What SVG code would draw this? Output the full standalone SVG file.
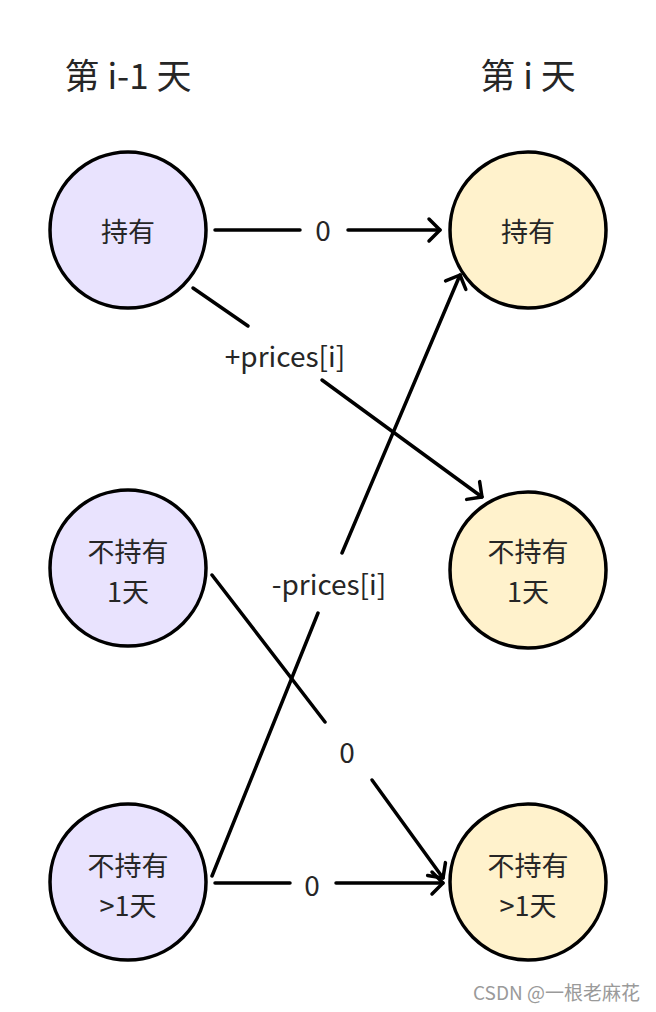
<svg xmlns="http://www.w3.org/2000/svg" width="656" height="1012" viewBox="0 0 656 1012">
<style>
.t{font-family:"Noto Sans CJK SC","Noto Sans",sans-serif;fill:#262626;text-anchor:middle}
.title{font-size:35px}
.n{font-size:27px}
.lbl{font-size:28px}
.l{fill:#e9e3fe;stroke:#000;stroke-width:3.5}
.r{fill:#fff2cc;stroke:#000;stroke-width:3.5}
.e{stroke:#000;stroke-width:3.5;fill:none;stroke-linecap:round}
</style>
<defs>
<marker id="ah" markerUnits="userSpaceOnUse" markerWidth="30" markerHeight="30" viewBox="-15 -15 30 30" refX="0" refY="0" orient="auto">
<path d="M -11 -11 L 0 0 L -11 11" fill="none" stroke="#000" stroke-width="3.5" stroke-linecap="round" stroke-linejoin="round"/>
</marker>
</defs>
<rect width="656" height="1012" fill="#fff"/>
<g id="titles">
<text class="t title" x="128" y="89">第 i-1 天</text>
<text class="t title" x="528" y="89">第 i 天</text>
</g>
<g id="connectors">
<line class="e" x1="215" y1="230" x2="300" y2="230"/>
<line class="e" x1="348" y1="230" x2="440" y2="230" marker-end="url(#ah)"/>
<text class="t lbl" x="323" y="241">0</text>
<line class="e" x1="193" y1="288" x2="248" y2="326"/>
<line class="e" x1="322" y1="380" x2="482" y2="497" marker-end="url(#ah)"/>
<text class="t lbl" x="285" y="367">+prices[i]</text>
<line class="e" x1="212" y1="876" x2="318" y2="613"/>
<line class="e" x1="342" y1="553" x2="460" y2="275" marker-end="url(#ah)"/>
<text class="t lbl" x="329" y="595">-prices[i]</text>
<line class="e" x1="212" y1="575" x2="325" y2="722"/>
<line class="e" x1="372" y1="780" x2="443" y2="878" marker-end="url(#ah)"/>
<text class="t lbl" x="347" y="763">0</text>
<line class="e" x1="215" y1="883" x2="290" y2="883"/>
<line class="e" x1="336" y1="883" x2="443" y2="883" marker-end="url(#ah)"/>
<text class="t lbl" x="312" y="896">0</text>
</g>
<g id="L1"><circle class="l" cx="128" cy="230" r="78"/><text class="t n" x="128" y="242">持有</text></g>
<g id="L2"><circle class="l" cx="128" cy="568" r="78"/><text class="t n" x="128" y="562">不持有</text><text class="t n" x="128" y="602">1天</text></g>
<g id="L3"><circle class="l" cx="128" cy="882" r="78"/><text class="t n" x="128" y="876">不持有</text><text class="t n" x="128" y="916">&gt;1天</text></g>
<g id="R1"><circle class="r" cx="528" cy="230" r="78"/><text class="t n" x="528" y="242">持有</text></g>
<g id="R2"><circle class="r" cx="528" cy="570" r="78"/><text class="t n" x="528" y="562">不持有</text><text class="t n" x="528" y="602">1天</text></g>
<g id="R3"><circle class="r" cx="528" cy="882" r="78"/><text class="t n" x="528" y="876">不持有</text><text class="t n" x="528" y="916">&gt;1天</text></g>
<text x="640" y="1000" font-family="'Noto Sans CJK SC',sans-serif" font-size="19" fill="#9a9a9a" text-anchor="end">CSDN @一根老麻花</text>
</svg>
